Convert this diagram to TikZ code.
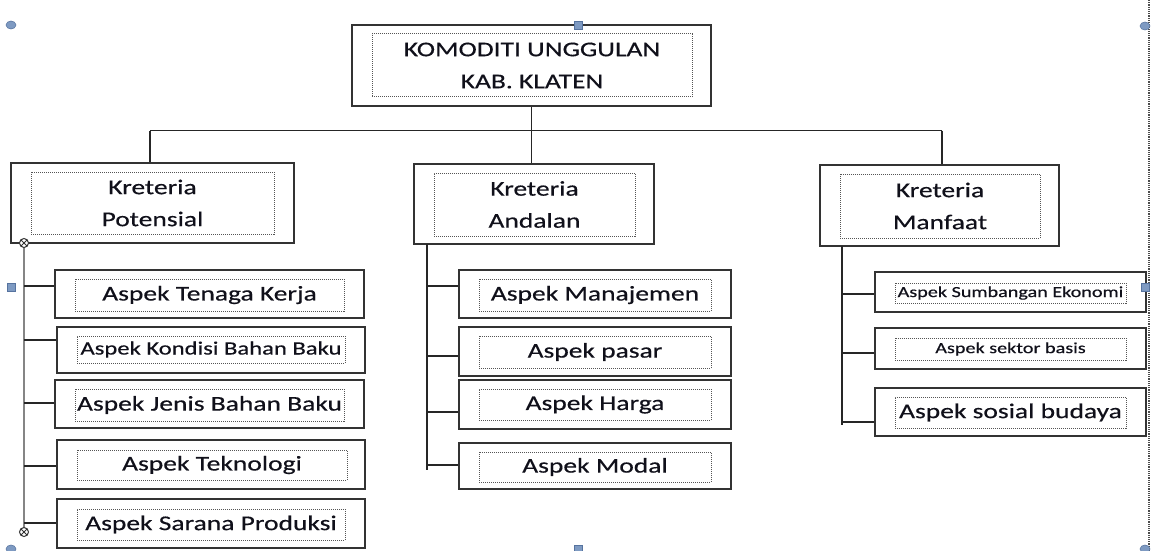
\documentclass[tikz,border=0pt]{standalone}
\usepackage{fontspec}
\setmainfont{Carlito}[FakeStretch=1.31, FakeBold=0.4]
\usetikzlibrary{shapes.geometric}
\definecolor{boxline}{HTML}{333333}
\definecolor{dotline}{HTML}{555555}
\definecolor{txt}{HTML}{10101A}
\definecolor{hfill}{HTML}{7E9AC2}
\definecolor{hdraw}{HTML}{56739F}
\definecolor{spinegray}{HTML}{858585}
\tikzset{
  outerbox/.style={draw=boxline, line width=2pt, fill=white, inner sep=0pt},
  innerbox/.style={draw=dotline, densely dotted, line width=1pt, inner sep=0pt, align=center, text=txt, font=\fontsize{21}{32}\selectfont},
  smalltext/.style={font=\fontsize{15.4}{18}\selectfont},
  midtext/.style={font=\fontsize{18.8}{22}\selectfont},
  conn/.style={draw=black!85, line width=1.8pt},
  spine/.style={draw=spinegray, line width=2.4pt},
  handlec/.style={ellipse, fill=hfill, draw=hdraw, line width=0.5pt, minimum width=10pt, minimum height=8pt, inner sep=0pt},
  handles/.style={rectangle, fill=hfill, draw=hdraw, line width=0.6pt, minimum size=8pt, inner sep=0pt},
  handlex/.style={circle, draw=black!80, fill=white, line width=1pt, minimum size=9pt, inner sep=0pt,
    path picture={\draw[black!80, line width=0.8pt] ([shift={(1.5pt,-1.5pt)}]path picture bounding box.north west) -- ([shift={(-1.5pt,1.5pt)}]path picture bounding box.south east)
      ([shift={(-1.5pt,-1.5pt)}]path picture bounding box.north east) -- ([shift={(1.5pt,1.5pt)}]path picture bounding box.south west);}}
}
\begin{document}
\begin{tikzpicture}[x=1pt,y=-1pt]
\fill[white] (0,0) rectangle (1152,551);
\useasboundingbox (0,0) rectangle (1152,551);

% right dotted frame line
\draw[draw=black!70, densely dotted, line width=1.2pt] (1149,0) coordinate (fr1) -- (1149,551) coordinate (fr2);

\coordinate (busL) at (150,130.5);
\coordinate (busR) at (942,130.5);
\coordinate (ls) at (24,243);
\coordinate (le) at (24,532);
\coordinate (ms) at (427,244);
\coordinate (me) at (427,470);
\coordinate (rs) at (842,246);
\coordinate (re) at (842,425);

% Top
\node[outerbox, minimum width=359pt, minimum height=81pt] (top) at (531.5,65.5) {};
\node[innerbox, minimum width=320pt, minimum height=63pt] (topt) at (532,65.5) {KOMODITI UNGGULAN\\KAB. KLATEN};

% Criteria
\node[outerbox, minimum width=283pt, minimum height=80pt] (pot) at (152.5,203) {};
\node[innerbox, minimum width=243pt, minimum height=62pt] (pott) at (152.5,203) {Kreteria\\Potensial};
\node[outerbox, minimum width=240pt, minimum height=80pt] (and) at (534,204) {};
\node[innerbox, minimum width=201pt, minimum height=63pt] (andt) at (534.5,204.5) {Kreteria\\Andalan};
\node[outerbox, minimum width=239pt, minimum height=81pt] (man) at (939.5,205.5) {};
\node[innerbox, minimum width=200pt, minimum height=64pt] (mant) at (940,206) {Kreteria\\Manfaat};

\draw[conn] (busL) -- (busR);
\draw[conn] (top.south) -- (top.south |- and.north);
\draw[conn] (busL) -- (busL |- pot.north);
\draw[conn] (busR) -- (busR |- man.north);

% Left column
\node[outerbox, minimum width=309pt, minimum height=48pt] (t1) at (209.5,294) {};
\node[innerbox, minimum width=269pt, minimum height=32pt] (t1t) at (209.5,295) {Aspek Tenaga Kerja};
\node[outerbox, minimum width=308pt, minimum height=46pt] (t2) at (211,350) {};
\node[innerbox, midtext, minimum width=268pt, minimum height=27pt] (t2t) at (211,349.5) {Aspek Kondisi Bahan Baku};
\node[outerbox, minimum width=309pt, minimum height=48pt] (t3) at (209.5,404) {};
\node[innerbox, minimum width=269pt, minimum height=32pt] (t3t) at (209.5,405) {Aspek Jenis Bahan Baku};
\node[outerbox, minimum width=308pt, minimum height=49pt] (t4) at (211,464.5) {};
\node[innerbox, minimum width=270pt, minimum height=30pt] (t4t) at (212,465) {Aspek Teknologi};
\node[outerbox, minimum width=308pt, minimum height=49pt] (t5) at (211,523.5) {};
\node[innerbox, minimum width=268pt, minimum height=31pt] (t5t) at (211,524.5) {Aspek Sarana Produksi};

\draw[spine] (ls) -- (le);
\draw[conn] (ls |- 0,286) -- (t1.west |- 0,286);
\draw[conn] (ls |- 0,340) -- (t2.west |- 0,340);
\draw[conn] (ls |- 0,403) -- (t3.west |- 0,403);
\draw[conn] (ls |- 0,466) -- (t4.west |- 0,466);
\draw[conn] (ls |- 0,523) -- (t5.west |- 0,523);
\node[handlex] (hx1) at (ls) {};
\node[handlex] (hx2) at (le) {};

% Middle column
\node[outerbox, minimum width=272pt, minimum height=48pt] (m1) at (595,294) {};
\node[innerbox, minimum width=232pt, minimum height=32pt] (m1t) at (595,295) {Aspek Manajemen};
\node[outerbox, minimum width=272pt, minimum height=49pt] (m2) at (595,351.5) {};
\node[innerbox, minimum width=232pt, minimum height=32pt] (m2t) at (595,352) {Aspek pasar};
\node[outerbox, minimum width=272pt, minimum height=49pt] (m3) at (595,404.5) {};
\node[innerbox, minimum width=232pt, minimum height=31pt] (m3t) at (595,404.5) {Aspek Harga};
\node[outerbox, minimum width=272pt, minimum height=46pt] (m4) at (595,466) {};
\node[innerbox, minimum width=232pt, minimum height=30pt] (m4t) at (595,467) {Aspek Modal};

\draw[conn] (ms) -- (me);
\draw[conn] (ms |- 0,286) -- (m1.west |- 0,286);
\draw[conn] (ms |- 0,356) -- (m2.west |- 0,356);
\draw[conn] (ms |- 0,412) -- (m3.west |- 0,412);
\draw[conn] (ms |- 0,465) -- (m4.west |- 0,465);

% Right column
\node[outerbox, minimum width=271pt, minimum height=40pt] (r1) at (1010.5,292) {};
\node[innerbox, smalltext, minimum width=231pt, minimum height=20pt] (r1t) at (1010.5,293) {Aspek Sumbangan Ekonomi};
\node[outerbox, minimum width=271pt, minimum height=41pt] (r2) at (1010.5,348.5) {};
\node[innerbox, smalltext, minimum width=231pt, minimum height=22pt] (r2t) at (1010.5,349) {Aspek sektor basis};
\node[outerbox, minimum width=271pt, minimum height=48pt] (r3) at (1010.5,412) {};
\node[innerbox, minimum width=231pt, minimum height=31pt] (r3t) at (1010.5,412.5) {Aspek sosial budaya};

\draw[conn] (rs) -- (re);
\draw[conn] (rs |- 0,294) -- (r1.west |- 0,294);
\draw[conn] (rs |- 0,353) -- (r2.west |- 0,353);
\draw[conn] (rs |- 0,422) -- (r3.west |- 0,422);

% selection handles
\node[handlec] (hc1) at (11,25) {};
\node[handlec] (hc2) at (1145,26) {};
\node[handlec] (hc3) at (11,549) {};
\node[handlec] (hc4) at (1145,549) {};
\node[handles] (hs1) at (578,25) {};
\node[handles] (hs2) at (11,287) {};
\node[handles] (hs3) at (1145,287) {};
\node[handles] (hs4) at (578,549) {};
\end{tikzpicture}
\end{document}
